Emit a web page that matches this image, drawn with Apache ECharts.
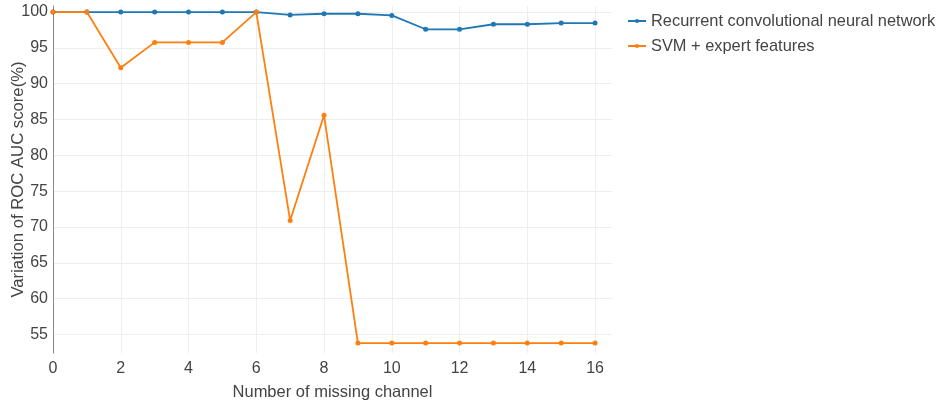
<!DOCTYPE html>
<html><head><meta charset="utf-8">
<script src="https://cdn.jsdelivr.net/npm/echarts@6/dist/echarts.min.js"></script>
<style>html,body{margin:0;padding:0;background:#fff}#c{width:938px;height:403px}</style>
</head><body><div id="c"></div>
<script>
const xValues = [0,1,2,3,4,5,6,7,8,9,10,11,12,13,14,15,16];
const rcnnValues = [100,100,100,100,100,100,100,99.6,99.77,99.77,99.53,97.6,97.6,98.3,98.3,98.47,98.47];
const svmValues = [100,100,92.23,95.77,95.77,95.77,100,70.89,85.59,53.79,53.79,53.79,53.79,53.79,53.79,53.79,53.79];
const xTicks = [0,2,4,6,8,10,12,14,16];
const yTicks = [55,60,65,70,75,80,85,90,95,100];
const seriesNames = ['Recurrent convolutional neural network','SVM + expert features'];

const font = 'Liberation Sans, Arial, sans-serif';
const chart = echarts.init(document.getElementById('c'));
chart.setOption({
  animation:false,
  textStyle:{fontFamily:font},
  grid:{left:53,right:326,top:6,bottom:50,containLabel:false,outerBoundsMode:'none'},
  legend:{
    orient:'vertical',left:627,top:13,padding:0,itemWidth:18,itemHeight:5,itemGap:9,
    textStyle:{fontSize:16.4,color:'#444',fontFamily:font},
    data:seriesNames
  },
  xAxis:{
    type:'value',min:0,max:16.5,
    name:'Number of missing channel',nameLocation:'middle',nameGap:31,nameMoveOverlap:false,
    nameTextStyle:{fontSize:16.5,color:'#444'},
    axisLine:{show:false},
    axisTick:{show:false,customValues:xTicks},
    axisLabel:{customValues:xTicks,fontSize:16,color:'#444',margin:8},
    splitLine:{show:true,lineStyle:{color:'#eee',width:1}}
  },
  yAxis:{
    type:'value',min:52.4,max:100.85,
    name:'Variation of ROC AUC score(%)',nameLocation:'middle',nameGap:26,nameMoveOverlap:false,
    nameTextStyle:{fontSize:16.7,color:'#444'},
    axisLine:{show:true,lineStyle:{color:'#888',width:1}},
    axisTick:{show:false,customValues:yTicks},
    axisLabel:{customValues:yTicks,fontSize:16,color:'#444',margin:5},
    splitLine:{show:true,lineStyle:{color:'#eee',width:1}}
  },
  series:[
    {name:seriesNames[0],type:'line',data:xValues.map((x,i)=>[x,rcnnValues[i]]),
     symbol:'circle',symbolSize:5,showSymbol:true,
     itemStyle:{color:'#1f77b4'},lineStyle:{color:'#1f77b4',width:1.8}},
    {name:seriesNames[1],type:'line',data:xValues.map((x,i)=>[x,svmValues[i]]),
     symbol:'circle',symbolSize:5,showSymbol:true,
     itemStyle:{color:'#ff7f0e'},lineStyle:{color:'#ff7f0e',width:1.8}}
  ]
});
</script></body></html>
